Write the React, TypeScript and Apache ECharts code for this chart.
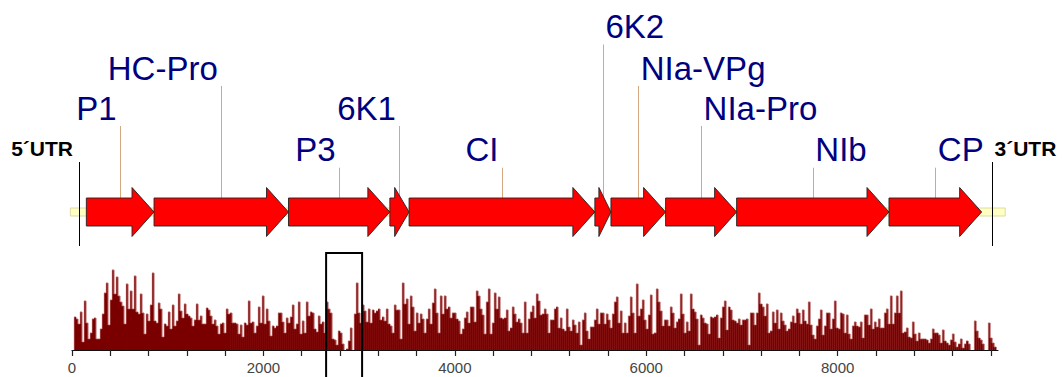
import React, { useEffect, useRef } from "react";
import * as echarts from "echarts";

// ---- genome map data (nucleotide positions) ----
const GENE_NAMES = ["P1", "HC-Pro", "P3", "6K1", "CI", "6K2", "NIa-VPg", "NIa-Pro", "NIb", "CP"];
const GENE_STARTS = [150, 857, 2262, 3321, 3522, 5463, 5631, 6202, 6944, 8536];
const GENE_ENDS = [857, 2262, 3321, 3522, 5463, 5631, 6202, 6944, 8536, 9504];
const LABEL_TIER = [2, 1, 3, 2, 3, 0, 1, 2, 3, 3];
const LABEL_ALIGN = ["right", "right", "right", "right", "right", "left", "left", "left", "left", "left"];
const UTR_NAMES = ["5´UTR", "3´UTR"];
const UTR_MARKS = [73, 9616];
const GENOME_SPAN = [-17, 9750];
const HIGHLIGHT = [2655, 3031];

// ---- axis ----
const AXIS_MAX = 9675;
const TICK_LABELS = [0, 2000, 4000, 6000, 8000];
const MINOR_TICKS = [0, 400, 800, 1200, 1600, 2000, 2400, 2800, 3200, 3600, 4000, 4400, 4800, 5200, 5600, 6000, 6400, 6800, 7200, 7600, 8000, 8400, 8800, 9200, 9600];

// ---- per-window values (window width BIN nt) ----
const BIN = 20.9;
const VALUES_A = [0, 33, 31, 26, 38, 8, 49, 27, 11, 17, 31, 32, 11, 11, 21, 36, 57, 67, 25, 50, 80, 56, 73, 54, 48, 44, 26, 66, 41, 59, 41, 74, 38, 36, 56, 37, 16, 36, 29, 45, 77, 29, 27, 47, 41, 13, 26, 24, 38, 21, 45, 24, 29, 56, 39, 32, 46, 36, 34, 32, 24, 30, 46, 30, 34, 26, 26, 42, 40, 34, 26, 30, 24, 16, 26, 27, 17];
const VALUES_B = [41, 36, 37, 27, 27, 26, 16, 25, 13, 27, 25, 49, 27, 28, 17, 24, 43, 27, 54, 26, 41, 29, 14, 24, 22, 24, 37, 37, 28, 17, 32, 27, 33, 45, 21, 26, 48, 16, 29, 17, 48, 34, 38, 37, 21, 18, 34, 26, 28, 17, 48, 41, 37, 11, 10, 5, 19, 17, 6, 0, 1, 9, 22, 0, 36, 67, 37, 27, 45, 39, 28, 41, 27, 40, 37, 39, 41];
const VALUES_C = [30, 33, 29, 41, 26, 24, 17, 45, 40, 40, 11, 67, 46, 51, 26, 54, 43, 19, 37, 27, 36, 31, 17, 31, 41, 26, 47, 61, 37, 17, 54, 36, 54, 41, 43, 32, 37, 37, 31, 29, 16, 21, 32, 38, 27, 43, 43, 28, 59, 54, 41, 35, 16, 48, 61, 16, 27, 57, 41, 53, 32, 31, 32, 40, 19, 22, 43, 36, 28, 31, 27, 17, 48, 17, 31, 38, 44];
const VALUES_D = [32, 56, 49, 35, 36, 41, 36, 17, 30, 30, 41, 43, 22, 32, 21, 19, 41, 23, 19, 30, 25, 17, 28, 5, 30, 37, 19, 11, 23, 23, 30, 41, 26, 37, 37, 26, 36, 30, 22, 36, 48, 53, 27, 39, 17, 27, 17, 34, 53, 37, 17, 66, 34, 41, 50, 30, 21, 35, 55, 16, 17, 61, 48, 39, 24, 30, 30, 24, 43, 37, 22, 28, 31, 56, 36, 17, 28];
const VALUES_E = [19, 56, 41, 38, 31, 5, 35, 32, 27, 26, 16, 33, 32, 33, 35, 12, 32, 43, 49, 20, 43, 40, 30, 29, 27, 31, 25, 30, 30, 31, 5, 37, 37, 25, 37, 57, 46, 43, 34, 46, 17, 19, 38, 27, 40, 21, 37, 29, 25, 19, 21, 28, 34, 27, 41, 37, 26, 40, 29, 26, 48, 25, 15, 11, 24, 31, 40, 15, 24, 37, 37, 21, 31, 49, 22, 21, 37];
const VALUES_F = [36, 17, 35, 16, 11, 24, 28, 24, 23, 28, 12, 35, 35, 25, 41, 21, 28, 23, 31, 22, 22, 37, 41, 26, 54, 26, 37, 54, 37, 59, 17, 18, 22, 13, 12, 28, 16, 9, 17, 11, 11, 11, 10, 7, 11, 21, 17, 17, 15, 7, 20, 9, 7, 5, 10, 16, 8, 3, 6, 11, 2, 6, 9, 6, 0, 0, 29, 19, 12, 10, 6, 0, 0, 27, 12, 7, 3];
const VALUES = [...VALUES_A, ...VALUES_B, ...VALUES_C, ...VALUES_D, ...VALUES_E, ...VALUES_F];

// ---- layout / style constants (pixels) ----
const FONT = '"Liberation Sans", Arial, sans-serif';
const MAP_CY = 212;
const BODY_H = 28;
const HEAD_H = 49;
const HEAD_MAX = 22;
const TIER_BASELINE = [38.5, 80, 120, 161.7];

export default function App() {
  const ref = useRef<HTMLDivElement>(null);

  useEffect(() => {
    const chart = echarts.init(ref.current!, null, { renderer: "svg" });

    const option: any = {
      animation: false,
      grid: { left: 72, right: 64, top: 268, bottom: 27 },
      xAxis: {
        type: "value",
        min: 0,
        max: AXIS_MAX,
        z: 10,
        splitLine: { show: false },
        axisLine: { show: true, lineStyle: { color: "#111", width: 1.2 } },
        axisTick: { show: true, customValues: MINOR_TICKS, length: 6, lineStyle: { color: "#222", width: 1.2 } },
        axisLabel: {
          customValues: TICK_LABELS,
          formatter: (v: number) => String(v),
          fontSize: 15,
          fontFamily: FONT,
          color: "#444",
          margin: 10,
        },
      },
      yAxis: { type: "value", min: 0, max: 82, show: false },
      series: [
        // pale genome backbone
        {
          type: "custom",
          clip: false,
          z: 1,
          encode: { x: [0, 1], y: 2 },
          data: [[GENOME_SPAN[0], GENOME_SPAN[1], 0]],
          renderItem: (params: any, api: any) => {
            const xa = api.coord([api.value(0), 0])[0];
            const xb = api.coord([api.value(1), 0])[0];
            return {
              type: "rect",
              shape: { x: xa, y: MAP_CY - 4, width: xb - xa, height: 8 },
              style: { fill: "#ffffc4", stroke: "#dcdca0", lineWidth: 1 },
            };
          },
        },
        // UTR markers
        {
          type: "custom",
          clip: false,
          z: 2,
          encode: { x: 0, y: 1 },
          data: UTR_MARKS.map((m) => [m, 0]),
          renderItem: (params: any, api: any) => {
            const i = params.dataIndex;
            const x = Math.round(api.coord([api.value(0), 0])[0]) + 0.5;
            const isLeft = i === 0;
            return {
              type: "group",
              children: [
                {
                  type: "line",
                  shape: { x1: x, y1: 162, x2: x, y2: 246 },
                  style: { stroke: "#000", lineWidth: 1 },
                },
                {
                  type: "text",
                  x: isLeft ? x - 6.5 : x + 2,
                  y: 156 - 7.3,
                  style: {
                    text: UTR_NAMES[i],
                    fill: "#000",
                    font: `bold 21px ${FONT}`,
                    align: isLeft ? "right" : "left",
                    verticalAlign: "middle",
                  },
                },
              ],
            };
          },
        },
        // gene arrows with labels
        {
          type: "custom",
          clip: false,
          z: 3,
          encode: { x: [0, 1], y: 2 },
          data: GENE_NAMES.map((n, i) => [GENE_STARTS[i], GENE_ENDS[i], LABEL_TIER[i]]),
          renderItem: (params: any, api: any) => {
            const i = params.dataIndex;
            const s = api.value(0);
            const e = api.value(1);
            const x0 = api.coord([s, 0])[0];
            const x1 = api.coord([e, 0])[0];
            const mid = api.coord([(s + e) / 2, 0])[0];
            const head = Math.min(HEAD_MAX, 0.75 * (x1 - x0));
            const xh = x1 - head;
            const cy = MAP_CY;
            const bh = BODY_H / 2;
            const hh = HEAD_H / 2;
            const base = TIER_BASELINE[LABEL_TIER[i]];
            const alignRight = LABEL_ALIGN[i] === "right";
            const sx = Math.round(mid) + 0.5;
            return {
              type: "group",
              children: [
                {
                  type: "line",
                  shape: { x1: sx, y1: base + 6, x2: sx, y2: cy - bh },
                  style: { stroke: "#d4a880", lineWidth: 1 },
                },
                {
                  type: "polygon",
                  shape: {
                    points: [
                      [x0, cy - bh],
                      [xh, cy - bh],
                      [xh, cy - hh],
                      [x1, cy],
                      [xh, cy + hh],
                      [xh, cy + bh],
                      [x0, cy + bh],
                    ],
                  },
                  style: { fill: "#ff0000", stroke: "#222", lineWidth: 0.9 },
                },
                {
                  type: "text",
                  x: alignRight ? mid - 3.5 : mid + 2.5,
                  y: base - 11.8,
                  style: {
                    text: GENE_NAMES[i],
                    fill: "#00007f",
                    font: `33px ${FONT}`,
                    align: alignRight ? "right" : "left",
                    verticalAlign: "middle",
                  },
                },
              ],
            };
          },
        },
        // per-window bars
        {
          type: "custom",
          clip: false,
          z: 4,
          encode: { x: 0, y: 1 },
          data: VALUES.map((v, i) => [i * BIN, v]),
          renderItem: (params: any, api: any) => {
            const i = params.dataIndex;
            const v = api.value(1);
            const prev = i > 0 ? VALUES[i - 1] : 0;
            const xa = api.coord([i * BIN, 0])[0];
            const xb = api.coord([(i + 1) * BIN, 0])[0];
            const yb = api.coord([0, 0])[1];
            const yt = api.coord([0, v])[1];
            const yp = api.coord([0, prev])[1];
            const children: any[] = [];
            if (v > 0) {
              children.push({
                type: "rect",
                shape: { x: xa, y: yt, width: xb - xa + 0.3, height: yb - yt },
                style: { fill: "#7a0000" },
              });
              children.push({
                type: "line",
                shape: { x1: xa, y1: yt, x2: xb, y2: yt },
                style: { stroke: "#a84848", lineWidth: 0.8 },
              });
            }
            if (Math.abs(v - prev) > 3) {
              children.push({
                type: "line",
                shape: { x1: xa, y1: Math.min(yt, yp), x2: xa, y2: Math.max(yt, yp) },
                style: { stroke: "#e0a8a8", lineWidth: 0.6 },
              });
            }
            return { type: "group", children };
          },
        },
        // highlighted region box
        {
          type: "custom",
          clip: false,
          z: 5,
          encode: { x: [0, 1], y: 2 },
          data: [[HIGHLIGHT[0], HIGHLIGHT[1], 0]],
          renderItem: (params: any, api: any) => {
            const xa = api.coord([api.value(0), 0])[0];
            const xb = api.coord([api.value(1), 0])[0];
            return {
              type: "rect",
              shape: { x: xa, y: 253, width: xb - xa, height: 140 },
              style: { fill: "none", stroke: "#000", lineWidth: 2 },
            };
          },
        },
      ],
    };

    chart.setOption(option);
    return () => chart.dispose();
  }, []);

  return (
    <div
      ref={ref}
      style={{ position: "absolute", left: 0, top: 0, width: 1062, height: 377 }}
    />
  );
}
